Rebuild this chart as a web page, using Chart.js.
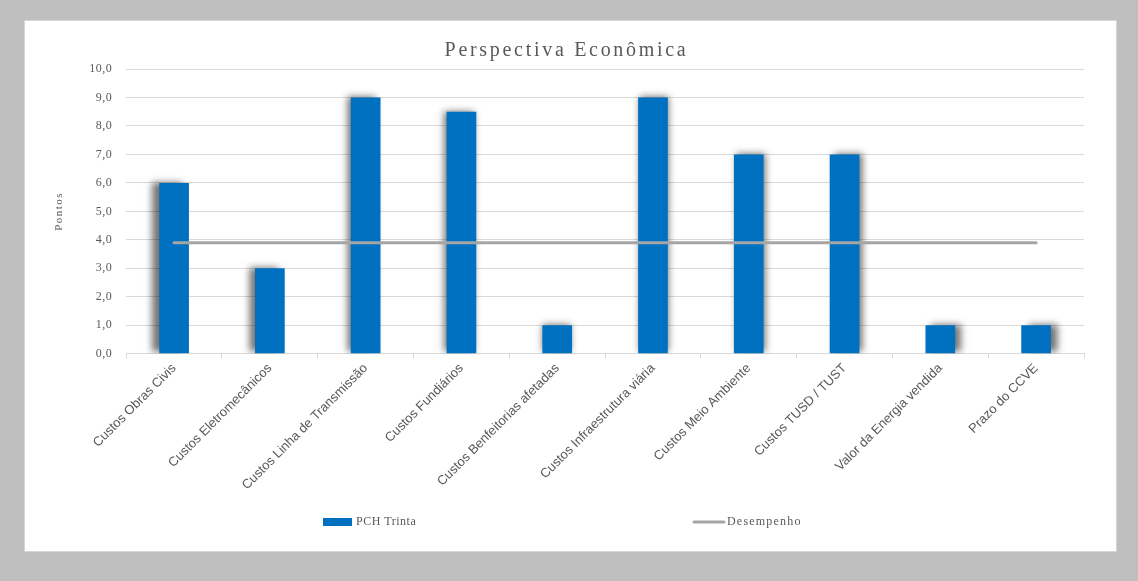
<!DOCTYPE html>
<html lang="pt-BR">
<head>
<meta charset="utf-8">
<title>Perspectiva Econômica</title>
<script src="https://cdn.jsdelivr.net/npm/chart.js@4/dist/chart.umd.min.js"></script>
<style>
  html, body { margin: 0; padding: 0; background: #bfbfbf; }
  #painel {
    position: absolute; left: 25px; top: 21px;
    width: 1091px; height: 530px;
    background: #ffffff;
    box-shadow: 0 0 0 1px #d6d6d6;
  }
  #painel canvas { display: block; }
</style>
</head>
<body>
<div id="painel">
  <canvas id="grafico" width="1091" height="530"></canvas>
</div>
<script>
// Dados do gráfico
var categorias = [
    'Custos Obras Civis',
    'Custos Eletromecânicos',
    'Custos Linha de Transmissão',
    'Custos Fundiários',
    'Custos Benfeitorias afetadas',
    'Custos Infraestrutura viária',
    'Custos Meio Ambiente',
    'Custos TUSD / TUST',
    'Valor da Energia vendida',
    'Prazo do CCVE'
];
var pchTrinta = [6, 3, 9, 8.5, 1, 9, 7, 7, 1, 1];
var desempenho = [3.9, 3.9, 3.9, 3.9, 3.9, 3.9, 3.9, 3.9, 3.9, 3.9];
var escalaY = { min: 0, max: 10, passo: 1 };

var corTexto = '#595959';
var fonteSerif = '"Liberation Serif", "Times New Roman", serif';
var fonteSans = '"Liberation Sans", Arial, sans-serif';

// aplica espaçamento entre letras num método de desenho
function espacar(obj, metodo, espaco) {
    if (!obj || obj['_esp_' + metodo]) return;
    var original = obj[metodo];
    obj[metodo] = function () {
        var ctx = this.ctx;
        var antes = ctx.letterSpacing;
        ctx.letterSpacing = espaco;
        var r = original.apply(this, arguments);
        ctx.letterSpacing = antes;
        return r;
    };
    obj['_esp_' + metodo] = true;
}

var pluginEspacamento = {
    id: 'espacamento',
    afterLayout: function (chart) {
        espacar(chart.titleBlock, 'draw', '2.7px');
        espacar(chart.scales.y, 'drawTitle', '1.5px');
        espacar(chart.scales.y, 'drawLabels', '0.5px');
    }
};

// sombra das barras (luz vinda do centro)
var pluginSombra = {
    id: 'sombraBarras',
    beforeDatasetDraw: function (chart, args) {
        if (args.meta.type !== 'bar') return;
        var ctx = chart.ctx;
        var area = chart.chartArea;
        var meio = (area.left + area.right) / 2;
        var metade = (area.right - area.left) / 2;
        ctx.save();
        ctx.beginPath();
        ctx.rect(area.left - 20, area.top - 20, area.right - area.left + 40, area.bottom - area.top + 20);
        ctx.clip();
        args.meta.data.forEach(function (barra) {
            ctx.save();
            ctx.shadowColor = 'rgba(0, 0, 0, 0.55)';
            ctx.shadowBlur = 7;
            ctx.shadowOffsetX = (barra.x - meio) / metade * 8;
            ctx.shadowOffsetY = -1;
            barra.draw(ctx, area);
            ctx.restore();
        });
        ctx.restore();
        return false;
    }
};

// legenda desenhada à mão (itens bem afastados, como no original)
var pluginLegenda = {
    id: 'legendaManual',
    afterDraw: function (chart) {
        var ctx = chart.ctx;
        var y = 501;
        var ds = chart.data.datasets;
        ctx.save();
        ctx.font = '12px ' + fonteSerif;
        ctx.textBaseline = 'middle';

        // PCH Trinta (barra)
        ctx.fillStyle = ds[0].backgroundColor;
        ctx.fillRect(298, y - 4, 29, 8);
        ctx.fillStyle = corTexto;
        ctx.letterSpacing = '0.5px';
        ctx.fillText(ds[0].label, 331, y);

        // Desempenho (linha)
        ctx.strokeStyle = ds[1].borderColor;
        ctx.lineWidth = 3;
        ctx.lineCap = 'round';
        ctx.beginPath();
        ctx.moveTo(669, y);
        ctx.lineTo(699, y);
        ctx.stroke();
        ctx.letterSpacing = '1.2px';
        ctx.fillText(ds[1].label, 702, y);
        ctx.restore();
    }
};

var ctx = document.getElementById('grafico').getContext('2d');

var grafico = new Chart(ctx, {
    data: {
        labels: categorias,
        datasets: [{
            type: 'bar',
            label: 'PCH Trinta',
            data: pchTrinta,
            backgroundColor: '#0070c0',
            borderWidth: 0,
            categoryPercentage: 1,
            barPercentage: 0.31,
            order: 1
        }, {
            type: 'line',
            label: 'Desempenho',
            data: desempenho,
            borderColor: '#a5a5a5',
            borderWidth: 3,
            borderCapStyle: 'round',
            pointRadius: 0,
            fill: false,
            order: 0
        }]
    },
    options: {
        responsive: false,
        animation: false,
        layout: {
            padding: { top: 16, left: 24, right: 32, bottom: 56 }
        },
        plugins: {
            legend: { display: false },
            tooltip: { enabled: false },
            title: {
                display: true,
                text: 'Perspectiva Econômica',
                color: corTexto,
                font: { family: fonteSerif, size: 20, weight: 'normal' },
                padding: { top: 2, bottom: 6 }
            }
        },
        scales: {
            x: {
                offset: true,
                grid: {
                    display: true,
                    drawOnChartArea: false,
                    drawTicks: true,
                    tickLength: 5,
                    color: '#d9d9d9'
                },
                border: { color: '#d9d9d9' },
                ticks: {
                    color: corTexto,
                    font: { family: fonteSans, size: 13 },
                    minRotation: 45,
                    maxRotation: 45,
                    autoSkip: false,
                    padding: 2
                }
            },
            y: {
                min: escalaY.min,
                max: escalaY.max,
                border: { display: false },
                grid: { color: '#d9d9d9', drawTicks: false },
                ticks: {
                    stepSize: escalaY.passo,
                    color: corTexto,
                    padding: 14,
                    font: { family: fonteSerif, size: 12 },
                    callback: function (v) { return v.toFixed(1).replace('.', ','); }
                },
                title: {
                    display: true,
                    text: 'Pontos',
                    color: corTexto,
                    font: { family: fonteSerif, size: 11 },
                    padding: { top: 4, bottom: 11 }
                }
            }
        }
    },
    plugins: [pluginEspacamento, pluginSombra, pluginLegenda]
});
grafico.draw();
</script>
</body>
</html>
